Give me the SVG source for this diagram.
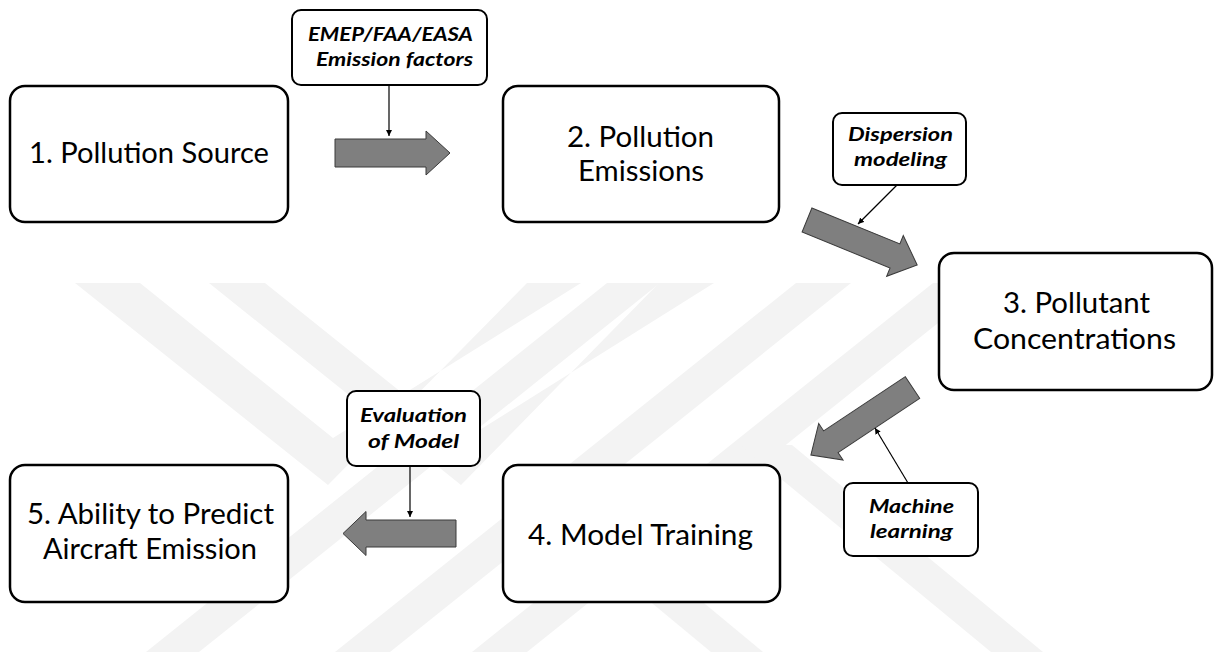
<svg xmlns="http://www.w3.org/2000/svg" width="1215" height="652" viewBox="0 0 1215 652">
<style>
.wm{fill:#f3f3f3}
.box{fill:#fff;stroke:#000;stroke-width:2.5}
.lbl{fill:#fff;stroke:#000;stroke-width:2}
.t{font-family:Lato,"Liberation Sans",sans-serif;font-size:28px;fill:#000}
.l{font-family:Lato,"Liberation Sans",sans-serif;font-size:19px;font-weight:bold;font-style:italic;fill:#000}
.big{fill:#7f7f7f;stroke:#3a3a3a;stroke-width:1}
.c{stroke:#000;stroke-width:1.2;fill:none;marker-end:url(#ah)}
</style>
<defs>
<marker id="ah" viewBox="0 0 10 10" refX="10" refY="5" markerWidth="6" markerHeight="6" markerUnits="userSpaceOnUse" orient="auto">
<path d="M0,0 L10,5 L0,10 Z" fill="#000"/>
</marker>
</defs>
<rect width="1215" height="652" fill="#fff"/>
<g id="watermark">
<polygon class="wm" points="75,283 140,283 333,438 581,283 527,283 328,485"/>
<polygon class="wm" points="209,283 265,283 462,441 714,283 659,283 461,485"/>
<polygon class="wm" points="796,283 851,283 390,652 335,652"/>
<polygon class="wm" points="933,283 988,283 527,652 472,652"/>
<polygon class="wm" points="607,283 660,283 199,652 146,652"/>
<polygon class="wm" points="740,445 792,445 1043,652 991,652"/>
<polygon class="wm" points="600,560 652,560 763,652 711,652"/>
</g>
<g id="connectors">
<path class="big" d="M0,-14 L91,-14 L91,-22 L115,0 L91,22 L91,14 L0,14 Z" transform="translate(335,153)"/>
<path class="big" d="M0,-13 L95,-13 L95,-22 L119,0 L95,22 L95,13 L0,13 Z" transform="translate(807,220) rotate(22.2)"/>
<path class="big" d="M0,-13 L98,-13 L98,-22 L122,0 L98,22 L98,13 L0,13 Z" transform="translate(912.5,387.5) rotate(146.4)"/>
<path class="big" d="M0,-13.5 L90,-13.5 L90,-22 L113,0 L90,22 L90,13.5 L0,13.5 Z" transform="translate(456,533.5) rotate(180)"/>
<line class="c" x1="389" y1="85" x2="389" y2="136"/>
<line class="c" x1="897" y1="185" x2="858" y2="224"/>
<line class="c" x1="908" y1="483" x2="875" y2="428"/>
<line class="c" x1="410" y1="466" x2="410" y2="517"/>
</g>
<g id="n1"><rect class="box" x="10" y="86" width="278" height="136" rx="15"/>
<text class="t" x="29" y="163" textLength="240" lengthAdjust="spacingAndGlyphs">1. Pollution Source</text></g>
<g id="n2"><rect class="box" x="503" y="86" width="276" height="136" rx="15"/>
<text class="t" x="567" y="147" textLength="147" lengthAdjust="spacingAndGlyphs">2. Pollution</text>
<text class="t" x="578" y="181" textLength="126" lengthAdjust="spacingAndGlyphs">Emissions</text></g>
<g id="n3"><rect class="box" x="939" y="253" width="273" height="137" rx="15"/>
<text class="t" x="1003" y="313" textLength="147" lengthAdjust="spacingAndGlyphs">3. Pollutant</text>
<text class="t" x="973" y="349" textLength="203" lengthAdjust="spacingAndGlyphs">Concentrations</text></g>
<g id="n4"><rect class="box" x="503" y="465" width="277" height="137" rx="15"/>
<text class="t" x="528" y="545" textLength="225" lengthAdjust="spacingAndGlyphs">4. Model Training</text></g>
<g id="n5"><rect class="box" x="10" y="465" width="278" height="137" rx="15"/>
<text class="t" x="27" y="524" textLength="247" lengthAdjust="spacingAndGlyphs">5. Ability to Predict</text>
<text class="t" x="43" y="559" textLength="214" lengthAdjust="spacingAndGlyphs">Aircraft Emission</text></g>
<g id="lbl-emep"><rect class="lbl" x="292" y="10" width="195" height="75" rx="9"/>
<text class="l" x="308" y="41" textLength="165" lengthAdjust="spacingAndGlyphs">EMEP/FAA/EASA</text>
<text class="l" x="316" y="66" textLength="157" lengthAdjust="spacingAndGlyphs">Emission factors</text></g>
<g id="lbl-disp"><rect class="lbl" x="833" y="113" width="133" height="72" rx="9"/>
<text class="l" x="848" y="141" textLength="105" lengthAdjust="spacingAndGlyphs">Dispersion</text>
<text class="l" x="854" y="166" textLength="93" lengthAdjust="spacingAndGlyphs">modeling</text></g>
<g id="lbl-ml"><rect class="lbl" x="844" y="483" width="134" height="73" rx="9"/>
<text class="l" x="869" y="513" textLength="85" lengthAdjust="spacingAndGlyphs">Machine</text>
<text class="l" x="870" y="538" textLength="83" lengthAdjust="spacingAndGlyphs">learning</text></g>
<g id="lbl-eval"><rect class="lbl" x="347" y="391" width="133" height="75" rx="9"/>
<text class="l" x="360" y="422" textLength="107" lengthAdjust="spacingAndGlyphs">Evaluation</text>
<text class="l" x="368" y="448" textLength="91" lengthAdjust="spacingAndGlyphs">of Model</text></g>
</svg>
